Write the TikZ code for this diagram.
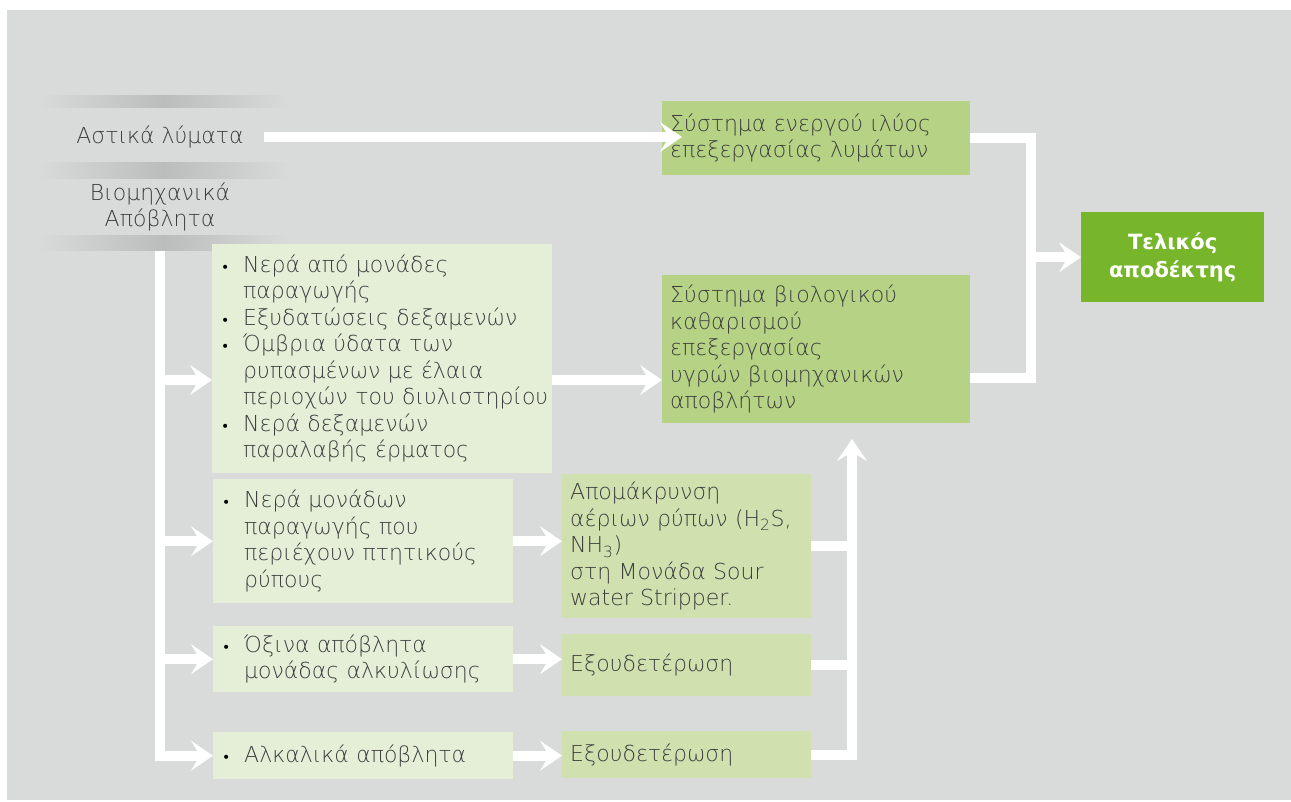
\documentclass[tikz,border=0pt]{standalone}
\usepackage{fontspec}
\setmainfont{DejaVu Sans}[UprightFont={* ExtraLight}, BoldFont={* Bold}]
\newfontfamily\bulf{DejaVu Sans}
\usetikzlibrary{arrows.meta}
\definecolor{bgc}{HTML}{D9DADA}
\definecolor{barc}{HTML}{BBBCBC}
\definecolor{txtc}{HTML}{3C3C3C}
\definecolor{gl}{HTML}{E5EFD8}
\definecolor{gm}{HTML}{D0E1AF}
\definecolor{gd}{HTML}{B6D385}
\definecolor{gf}{HTML}{77B62A}
\newcommand\bi{\makebox[22pt][l]{\textcolor{black}{\bulf\fontsize{14}{14}\selectfont •}}}
\newcommand\ci{\hspace*{22pt}}
\begin{document}
\begin{tikzpicture}[x=1pt,y=-1pt,
  txt/.style={text=txtc, font=\fontsize{22}{26.5}\selectfont},
  box/.style={txt, anchor=north west, inner xsep=8pt, inner ysep=0pt, align=left},
  lbl/.style={txt, inner sep=0pt, align=center},
  line/.style={draw=white, line width=10pt},
  conn/.style={line, -{Stealth[length=22pt,width=30pt,inset=9pt,line width=0pt]}}
]
\useasboundingbox (0,0) rectangle (1291,801);
\fill[white] (0,0) rectangle (1291,801);
\fill[bgc] (7,10) rectangle (1291,800);
% gradient bars
\shade[left color=bgc, right color=bgc, middle color=barc] (38,95) rectangle (290,107);
\shade[left color=bgc, right color=bgc, middle color=barc] (38,162) rectangle (290,178);
\shade[left color=bgc, right color=bgc, middle color=barc] (38,235) rectangle (290,250);
% labels
\node[lbl] (ast) at (160,137) {Αστικά λύματα};
\node[lbl] (ind) at (160,207) {Βιομηχανικά\\Απόβλητα};
% boxes
\node[box, fill=gd, text width=292pt, minimum height=74pt] (A) at (662,101)
  {Σύστημα ενεργού ιλύος\\επεξεργασίας λυμάτων};
\node[box, fill=gd, text width=292pt, minimum height=148pt] (B) at (662,275)
  {Σύστημα βιολογικού\\καθαρισμού\\επεξεργασίας\\υγρών βιομηχανικών\\αποβλήτων};
\node[box, fill=gf, text=white, align=center, font=\fontsize{21}{28}\selectfont\bfseries, text width=167pt, minimum height=90pt] (F) at (1081,212)
  {Τελικός\\αποδέκτης};
\node[box, fill=gl, inner xsep=9pt, text width=322pt, minimum height=229pt] (b1) at (212,244)
  {\bi Νερά από μονάδες\\\ci παραγωγής\\\bi Εξυδατώσεις δεξαμενών\\\bi Όμβρια ύδατα των\\\ci ρυπασμένων με έλαια\\\ci\mbox{περιοχών του διυλιστηρίου}\\\bi Νερά δεξαμενών\\\ci παραλαβής έρματος};
\node[box, fill=gl, inner xsep=9pt, text width=282pt, minimum height=124pt] (b2) at (213,479)
  {\bi Νερά μονάδων\\\ci παραγωγής που\\\ci περιέχουν πτητικούς\\\ci ρύπους};
\node[box, fill=gm, text width=233pt, minimum height=144pt] (C) at (562,474)
  {Απομάκρυνση\\\mbox{αέριων ρύπων (H\textsubscript{2}S,}\\NH\textsubscript{3})\\στη Μονάδα Sour\\water Stripper.};
\node[box, fill=gl, inner xsep=9pt, text width=282pt, minimum height=66pt] (b3) at (213,626)
  {\bi Όξινα απόβλητα\\\ci μονάδας αλκυλίωσης};
\node[box, fill=gm, text width=233pt, minimum height=62pt] (D) at (562,634)
  {Εξουδετέρωση};
\node[box, fill=gl, inner xsep=9pt, text width=282pt, minimum height=47pt] (b4) at (213,732)
  {\bi Αλκαλικά απόβλητα};
\node[box, fill=gm, text width=233pt, minimum height=47pt] (E) at (562,731)
  {Εξουδετέρωση};
% connectors
\draw[conn] ([xshift=20pt]ast.east) -- ([xshift=20pt]ast.east -| A.west);
\coordinate (t0) at (160,251);
\draw[conn] (t0) |- (b4.west);
\draw[conn] (t0 |- 0,380) -- (b1.west |- 0,380);
\draw[conn] (t0 |- b2.west) -- (b2.west);
\draw[conn] (t0 |- b3.west) -- (b3.west);
\draw[conn] (b1.east |- 0,380) -- (B.west |- 0,380);
\draw[conn] (b2.east) -- (b2.east -| C.west);
\draw[conn] (b3.east) -- (b3.east -| D.west);
\draw[conn] (b4.east) -- (b4.east -| E.west);
\coordinate (cc) at (852,439);
\draw[conn] (E.east) -| (cc);
\draw[line] (C.east) -- (C.east -| cc);
\draw[line] (D.east) -- (D.east -| cc);
\coordinate (r1) at (1031,378);
\draw[line] (A.east) -| (r1) -- (r1 -| B.east);
\draw[conn] (r1 |- F.west) -- (F.west);
\end{tikzpicture}
\end{document}
